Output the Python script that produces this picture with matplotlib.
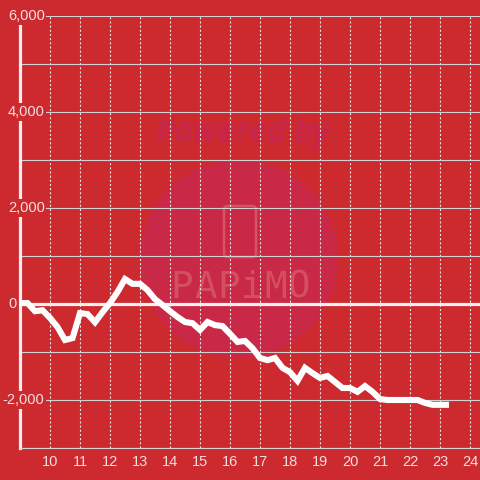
import numpy as np
import matplotlib
matplotlib.use('Agg')
import matplotlib.pyplot as plt
from matplotlib.patches import Circle, FancyBboxPatch

plt.rcParams['font.family'] = ['Liberation Sans', 'DejaVu Sans']
plt.rcParams['lines.scale_dashes'] = False

# data (hour of day, value)
hours = [9.0, 9.25, 9.5, 9.75, 10.0, 10.25, 10.5, 10.75, 11.0, 11.25, 11.5, 11.75,
         12.0, 12.25, 12.5, 12.75, 13.0, 13.25, 13.5, 13.75, 14.0, 14.25, 14.5, 14.75,
         15.0, 15.25, 15.5, 15.75, 16.0, 16.25, 16.5, 16.75, 17.0, 17.25, 17.5, 17.75,
         18.0, 18.25, 18.5, 18.75, 19.0, 19.25, 19.5, 19.75, 20.0, 20.25, 20.5, 20.75,
         21.0, 21.25, 21.5, 21.75, 22.0, 22.25, 22.5, 22.75, 23.0, 23.3]
values = [20, 20, -150, -130, -290, -480, -750, -710, -190, -210, -380, -170,
          20, 250, 520, 420, 420, 290, 100, -20, -150, -270, -375, -400,
          -540, -375, -440, -460, -620, -790, -770, -920, -1125, -1170, -1125, -1330,
          -1420, -1600, -1330, -1440, -1540, -1500, -1625, -1750, -1750, -1830, -1710, -1830,
          -1980, -2000, -2000, -2000, -2000, -2000, -2060, -2100, -2100, -2100]
x_ticks = list(range(10, 25))
y_grid = list(range(-3000, 7000, 1000))
y_labels = [-2000, 0, 2000, 4000, 6000]

BG = '#cd2a2f'
LBL = '#f3dede'

fig = plt.figure(figsize=(4.8, 4.8), dpi=100, facecolor=BG)

# watermark behind the chart
fig.add_artist(Circle((239/480, 1-259/480), 99/480, transform=fig.transFigure,
                      facecolor='#c92847', edgecolor='none', zorder=-2))
fig.text(243/480, 1-133/480, 'Powered by', fontsize=23, fontweight='bold',
         style='italic', family='Open Sans', color='#c5264a', ha='center', va='center', zorder=-1)
fig.add_artist(FancyBboxPatch((224/480, 1-257/480), 32/480, 51/480,
                              boxstyle='round,pad=0,rounding_size=0.008',
                              transform=fig.transFigure, facecolor='none',
                              edgecolor='#d65463', lw=1.8, zorder=-1))
for k, ch in enumerate('PAPiMO'):
    fig.text((182 + k*23.5)/480, 1-288/480, ch, fontsize=27, family='DejaVu Sans Mono',
             color='#d65463', alpha=0.9, ha='center', va='center', zorder=-1)

ax = fig.add_axes([20/480, 32/480, 460/480, 432/480])
ax.patch.set_alpha(0)
ax.set_xlim(9, 24 + 1/3)
ax.set_ylim(-3000, 6000)

ax.set_yticks(y_grid)
ax.set_yticklabels([])
ax.set_xticks(x_ticks)
ax.yaxis.grid(True, color='#d2d2d2', lw=0.8)
ax.xaxis.grid(True, color='#ece4e4', lw=0.8, ls=(0, (1.5, 1.5)))
ax.tick_params(axis='y', length=0)
ax.tick_params(axis='x', length=0, pad=5, labelsize=10.5, labelcolor=LBL)

for s in ['top', 'right']:
    ax.spines[s].set_visible(False)
ax.spines['bottom'].set_color('#d2d2d2')
ax.spines['bottom'].set_linewidth(0.8)
ax.spines['left'].set_color('#f4f0f0')
ax.spines['left'].set_linewidth(2.3)

ax.axhline(0, color='#f4f0f0', lw=2.3, zorder=3)

ax.plot(hours, values, color='white', lw=4.4, solid_joinstyle='miter',
        solid_capstyle='butt', zorder=4)

# y labels sit over the spine with a red box
tr = ax.get_yaxis_transform()
for v in y_labels:
    txt = '{:,}'.format(v)
    xo = -12/460 if v >= 0 else -17.5/460
    ax.text(xo, v, txt, transform=tr, ha='left', va='center', fontsize=10.5,
            color=LBL, clip_on=False, zorder=6,
            bbox=dict(facecolor=BG, edgecolor='none', pad=1.2))

plt.savefig('out.png', dpi=100, facecolor=BG)
